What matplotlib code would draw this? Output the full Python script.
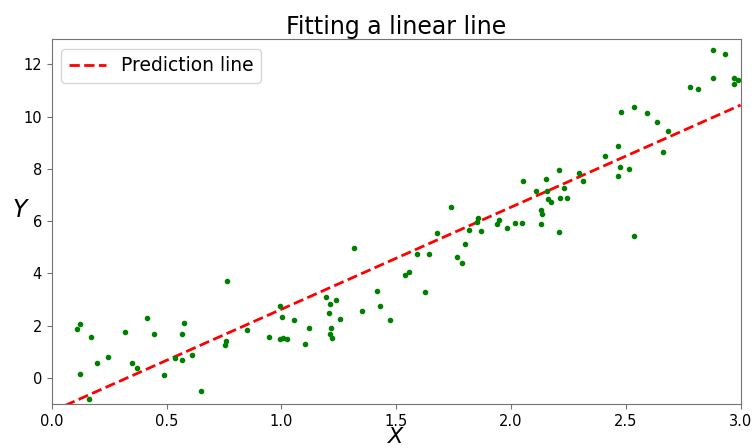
import numpy as np
import matplotlib
matplotlib.use("Agg")
import matplotlib.pyplot as plt

# points
X = [0.108, 0.122, 0.173, 0.122, 0.196, 0.244, 0.161, 0.321, 0.349, 0.372,
     0.416, 0.444, 0.490, 0.539, 0.567, 0.566, 0.576, 0.612, 0.650, 0.765,
     0.759, 0.755, 0.852, 0.945, 0.992, 1.005, 1.024, 0.996, 1.003, 1.056,
     1.104, 1.121, 1.195, 1.210, 1.207, 1.216, 1.213, 1.220, 1.239, 1.257,
     1.315, 1.352, 1.415, 1.430, 1.472, 1.539, 1.556, 1.624, 1.591, 1.642,
     1.676, 1.738, 1.764, 1.788, 1.799, 1.815, 1.850, 1.857, 1.869, 1.938,
     1.947, 1.982, 2.017, 2.050, 2.052, 2.110, 2.130, 2.135, 2.130, 2.154,
     2.155, 2.160, 2.176, 2.209, 2.212, 2.229, 2.242, 2.208, 2.298, 2.315,
     2.410, 2.468, 2.475, 2.464, 2.514, 2.481, 2.536, 2.536, 2.593, 2.634,
     2.682, 2.660, 2.778, 2.815, 2.878, 2.933, 2.881, 2.972, 2.987, 2.972]
Y = [1.86, 2.06, 1.55, 0.16, 0.58, 0.80, -0.82, 1.75, 0.56, 0.39,
     2.28, 1.68, 0.11, 0.77, 0.70, 1.67, 2.09, 0.89, -0.50, 3.70,
     1.41, 1.26, 1.84, 1.56, 1.50, 1.54, 1.49, 2.76, 2.35, 2.21,
     1.30, 1.93, 3.08, 2.82, 2.47, 1.91, 1.69, 1.54, 2.97, 2.26,
     4.97, 2.56, 3.32, 2.74, 2.23, 3.93, 4.04, 3.29, 4.73, 4.76,
     5.56, 6.55, 4.63, 4.38, 5.11, 5.65, 5.95, 6.11, 5.63, 5.89,
     6.03, 5.75, 5.94, 5.94, 7.54, 7.14, 6.41, 6.28, 5.90, 7.62,
     7.17, 6.86, 6.72, 7.97, 6.89, 7.25, 6.89, 5.57, 7.85, 7.55,
     8.50, 8.88, 8.08, 7.72, 8.00, 10.16, 10.38, 5.43, 10.14, 9.79,
     9.43, 8.64, 11.12, 11.06, 12.53, 12.41, 11.46, 11.47, 11.40, 11.24]

# droite de prédiction (extrémités)
X_line = [0.0, 3.0]
Y_line = [-1.28, 10.44]

fig = plt.figure(figsize=(7.55, 4.48), dpi=100)
ax = fig.add_axes([0.0685, 0.098, 0.9125, 0.814])

ax.plot(X_line, Y_line, "r--", linewidth=2, label="Prediction line")
ax.plot(X, Y, "g.")

ax.set_xlim(0, 3)
ax.set_ylim(-1, 12.95)
ax.set_title("Fitting a linear line", fontsize=17, pad=4)
ax.set_xlabel("$X$", fontsize=16, labelpad=-1)
ax.set_ylabel("$Y$", fontsize=17, rotation=0, labelpad=2)
ax.tick_params(labelsize=10.5, color="0.45")
for s in ax.spines.values():
	s.set_color("0.45")
ax.legend(loc="upper left", fontsize=13.5)

fig.savefig("out.png", dpi=100)
